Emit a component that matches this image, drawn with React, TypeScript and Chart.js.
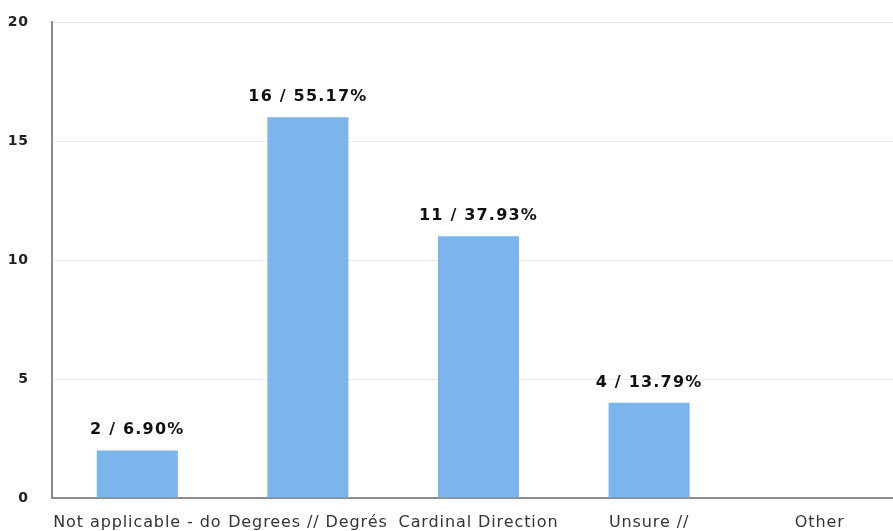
import React, { useEffect, useRef } from "react";
import { Chart, registerables } from "chart.js";

Chart.register(...registerables);

const categories = ["Not applicable - do", "Degrees // Degrés", "Cardinal Direction", "Unsure //", "Other"];
const counts = [2, 16, 11, 4, 0];
const percents = ["6.90", "55.17", "37.93", "13.79", "0.00"];
const yTickValues = [0, 5, 10, 15, 20];

const FONT = "'DejaVu Sans', Verdana, sans-serif";

const spacingPlugin = {
  id: "spacing",
  beforeUpdate(chart: any) {
    chart.ctx.letterSpacing = "0.9px";
  },
  beforeDraw(chart: any) {
    chart.ctx.letterSpacing = "0.9px";
  },
};

const dataLabelPlugin = {
  id: "dataLabels",
  afterDatasetsDraw(chart: any) {
    const ctx = chart.ctx;
    const meta = chart.getDatasetMeta(0);
    ctx.save();
    ctx.letterSpacing = "1.2px";
    ctx.font = `bold 16px ${FONT}`;
    ctx.fillStyle = "#111";
    ctx.textAlign = "center";
    ctx.textBaseline = "alphabetic";
    meta.data.forEach((bar: any, i: number) => {
      if (!counts[i]) return;
      ctx.fillText(`${counts[i]} / ${percents[i]}%`, bar.x, bar.y - 16);
    });
    ctx.restore();
  },
};

export default function App() {
  const ref = useRef<HTMLCanvasElement>(null);
  useEffect(() => {
    if (!ref.current) return;
    const chart = new Chart(ref.current, {
      type: "bar",
      data: {
        labels: categories,
        datasets: [
          {
            data: counts,
            backgroundColor: "#7cb5ec",
            borderWidth: 0,
            barPercentage: 0.475,
            categoryPercentage: 1,
          },
        ],
      },
      options: {
        responsive: false,
        devicePixelRatio: 1,
        animation: false,
        layout: { padding: { top: 22, left: 0, right: 0, bottom: 0 } },
        plugins: { legend: { display: false }, tooltip: { enabled: false } },
        scales: {
          x: {
            grid: { display: false },
            border: { display: true, color: "#8c8c8c", width: 2 },
            ticks: {
              autoSkip: false,
              maxRotation: 0,
              minRotation: 0,
              padding: 7,
              color: "#333",
              font: { family: FONT, size: 16 },
            },
            afterFit: (s: any) => {
              s.height = 33;
            },
          },
          y: {
            min: 0,
            max: 20,
            afterBuildTicks: (s: any) => {
              s.ticks = yTickValues.map((v) => ({ value: v }));
            },
            grid: { color: "#ebebeb", drawTicks: true, tickLength: 22, tickColor: "rgba(0,0,0,0)" },
            border: { display: true, color: "#8c8c8c", width: 2 },
            ticks: {
              padding: 1,
              color: "#222",
              font: { family: FONT, size: 14, weight: "bold" },
            },
            afterFit: (s: any) => {
              s.width = 52;
            },
          },
        },
      },
      plugins: [spacingPlugin, dataLabelPlugin],
    } as any);
    return () => chart.destroy();
  }, []);
  return (
    <div
      style={{
        position: "absolute",
        left: 0,
        top: 0,
        width: 893,
        height: 531,
        overflow: "hidden",
        background: "#fff",
      }}
    >
      <canvas ref={ref} width={905} height={531} style={{ display: "block" }} />
    </div>
  );
}
